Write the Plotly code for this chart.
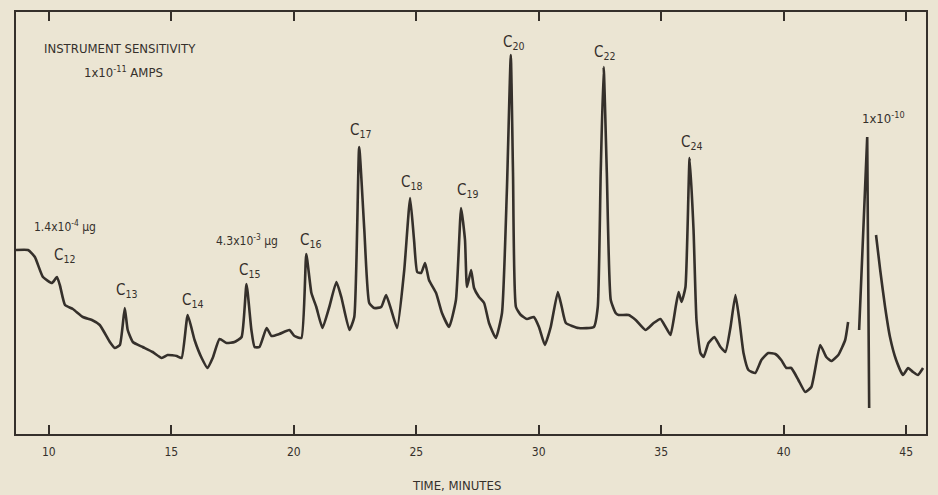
import plotly.graph_objects as go

# --- data (time in minutes, detector response in arbitrary units) ---
main_time = [8.66, 9.15, 9.43, 9.76, 10.13, 10.33, 10.45, 10.66, 10.98, 11.39, 11.76, 12.08, 12.49, 12.69,
             12.90, 13.10, 13.22, 13.43, 13.83, 14.24, 14.61, 14.85, 15.22, 15.42, 15.67, 15.95, 16.24, 16.48,
             16.69, 16.97, 17.26, 17.58, 17.87, 18.07, 18.27, 18.40, 18.60, 18.89, 19.09, 19.41, 19.82, 20.03,
             20.31, 20.51, 20.72, 20.92, 21.17, 21.45, 21.74, 21.94, 22.27, 22.47, 22.67, 22.88, 23.08, 23.28,
             23.57, 23.77, 23.98, 24.22, 24.51, 24.75, 24.91, 25.04, 25.20, 25.36, 25.52, 25.81, 26.05, 26.34,
             26.62, 26.83, 26.99, 27.07, 27.24, 27.36, 27.56, 27.77, 27.97, 28.25, 28.50, 28.70, 28.86, 28.95,
             29.07, 29.27, 29.52, 29.80, 30.01, 30.25, 30.49, 30.78, 30.94, 31.11, 31.63, 32.25, 32.41, 32.53,
             32.65, 32.78, 32.94, 33.14, 33.26, 33.67, 33.96, 34.36, 34.69, 34.97, 35.18, 35.38, 35.59, 35.71,
             35.83, 35.99, 36.16, 36.32, 36.44, 36.60, 36.73, 36.93, 37.17, 37.42, 37.62, 37.83, 38.03, 38.19,
             38.36, 38.56, 38.84, 39.09, 39.37, 39.66, 39.90, 40.11, 40.31, 40.60, 40.88, 41.13, 41.49, 41.74,
             41.94, 42.23, 42.51, 42.63]
main_signal = [184, 184, 177, 157, 151, 157, 149, 129, 125, 117, 114, 109, 92, 86,
               89, 126, 104, 92, 87, 82, 76, 79, 78, 76, 119, 94, 76, 66,
               76, 95, 91, 92, 97, 150, 104, 87, 87, 106, 98, 100, 104, 98,
               96, 180, 141, 127, 106, 127, 152, 137, 104, 117, 287, 204, 131, 126,
               127, 139, 124, 106, 164, 236, 194, 162, 161, 171, 154, 141, 121, 107,
               134, 226, 194, 147, 164, 146, 137, 131, 111, 96, 121, 244, 379, 261,
               127, 119, 115, 117, 107, 89, 107, 142, 127, 111, 106, 107, 127, 261,
               367, 261, 134, 121, 119, 119, 114, 104, 111, 115, 107, 99, 127, 142,
               132, 147, 276, 204, 114, 81, 77, 91, 97, 87, 82, 107, 139, 114,
               81, 64, 61, 74, 81, 80, 74, 66, 66, 54, 42, 47, 89, 77,
               73, 79, 94, 112]

# attenuator switched to 1x10^-10 A: pen spike, then decaying tail
spike_time = [43.08, 43.41, 43.49]
spike_signal = [104, 297, 26]
tail_time = [43.77, 43.94, 44.14, 44.34, 44.59, 44.87, 45.08, 45.28, 45.48, 45.69]
tail_signal = [199, 164, 127, 97, 74, 59, 66, 62, 59, 66]

tick_values = [10, 15, 20, 25, 30, 35, 40, 45]
tick_labels = ["10", "15", "20", "25", "30", "35", "40", "45"]

peak_labels = ["C<sub>12</sub>", "C<sub>13</sub>", "C<sub>14</sub>", "C<sub>15</sub>", "C<sub>16</sub>",
               "C<sub>17</sub>", "C<sub>18</sub>", "C<sub>19</sub>", "C<sub>20</sub>", "C<sub>22</sub>",
               "C<sub>24</sub>"]
peak_label_time = [10.66, 13.18, 15.87, 18.19, 20.68, 22.71, 24.79, 27.11, 28.99, 32.69, 36.24]
peak_label_signal = [179, 144, 134, 164, 194, 304, 252, 244, 392, 382, 292]

# --- styling ---
PAPER = "#ebe5d3"
INK = "#35302b"
FONT = "Liberation Sans Narrow, DejaVu Sans Condensed, Roboto Condensed, Arial Narrow, Roboto, sans-serif"

fig = go.Figure()
segments = [(main_time, main_signal, "spline"), (spike_time, spike_signal, "linear"),
            (tail_time, tail_signal, "spline")]
for t, s, shape in segments:
    fig.add_trace(go.Scatter(x=t, y=s, mode="lines",
                             line=dict(color=INK, width=2.6, shape=shape, smoothing=0.45),
                             hoverinfo="skip", showlegend=False))

annotations = []
for txt, xt, ys in zip(peak_labels, peak_label_time, peak_label_signal):
    annotations.append(dict(x=xt, y=ys, text=txt, showarrow=False, xref="x", yref="y",
                            font=dict(family=FONT, size=15, color=INK)))

extra = [
    ("INSTRUMENT SENSITIVITY", 12.90, 386, 13),
    ("1x10<sup>-11</sup> AMPS", 13.06, 362, 13),
    ("1.4x10<sup>-4</sup> µg", 10.66, 208, 12),
    ("4.3x10<sup>-3</sup> µg", 18.11, 194, 12),
    ("1x10<sup>-10</sup>", 44.06, 316, 13),
]
for txt, xt, ys, sz in extra:
    annotations.append(dict(x=xt, y=ys, text=txt, showarrow=False, xref="x", yref="y",
                            font=dict(family=FONT, size=sz, color=INK)))

annotations.append(dict(x=26.66, y=-0.121, xref="x", yref="paper", yanchor="middle",
                        text="TIME, MINUTES", showarrow=False,
                        font=dict(family=FONT, size=13, color=INK)))

fig.update_layout(
    width=938, height=495,
    margin=dict(l=16, r=10, t=12, b=61),
    paper_bgcolor=PAPER, plot_bgcolor=PAPER,
    annotations=annotations,
    xaxis=dict(range=[8.66, 45.81], tickvals=tick_values, ticktext=tick_labels,
               ticks="inside", ticklen=9, tickwidth=2, tickcolor=INK,
               showline=True, linecolor=INK, linewidth=2, mirror="ticks",
               showgrid=False, zeroline=False, ticklabelstandoff=6,
               tickfont=dict(family=FONT, size=12, color=INK)),
    yaxis=dict(range=[0, 422], showticklabels=False, ticks="", showgrid=False, zeroline=False,
               showline=True, linecolor=INK, linewidth=2, mirror=True),
)

fig.write_html("out.html")
